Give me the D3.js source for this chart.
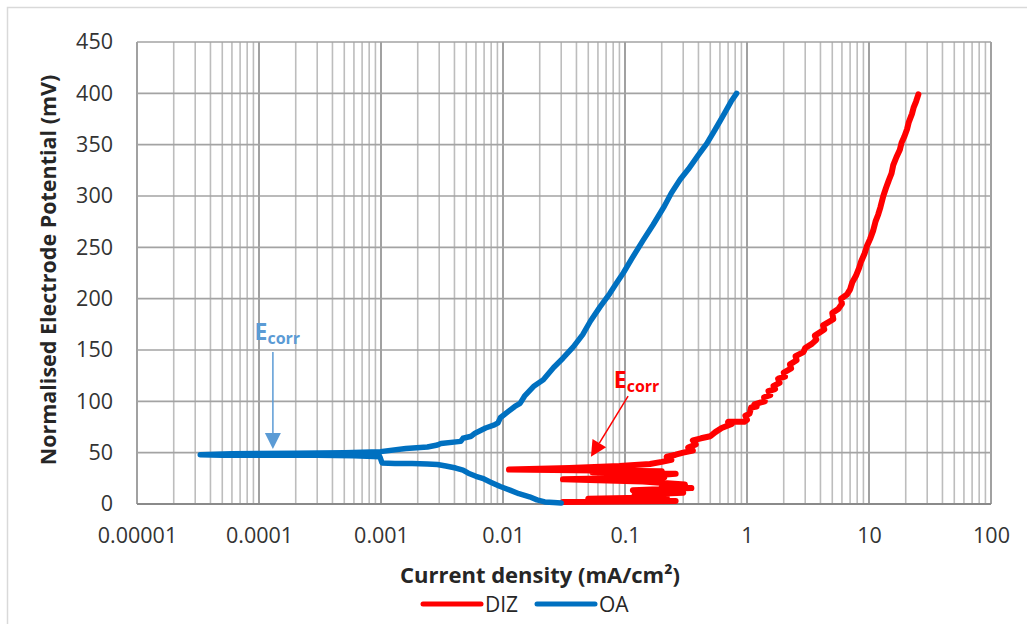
<!DOCTYPE html>
<html>
<head>
<meta charset="utf-8">
<script src="https://cdn.jsdelivr.net/npm/d3@7"></script>
<style>
  body { margin: 0; background: #fff; }
  svg { display: block; font-family: "Open Sans", "Noto Sans", sans-serif; }
</style>
</head>
<body>
<svg id="chart" width="1027" height="624"></svg>
<script>
// tick labels
const xTickValues = [1e-5, 1e-4, 1e-3, 0.01, 0.1, 1, 10, 100];
const xTickLabels = ["0.00001", "0.0001", "0.001", "0.01", "0.1", "1", "10", "100"];
const yTickValues = [0, 50, 100, 150, 200, 250, 300, 350, 400, 450];

// OA (blue) : current density (mA/cm2) and potential (mV), in scan order
const oaCurrent = [0.030, 0.026, 0.022, 0.019, 0.0165, 0.0135, 0.0114, 0.0095, 0.0080, 0.0068, 0.0060, 0.0052,
  0.0047, 0.0041, 0.0034, 0.0029, 0.0024, 0.0018, 0.0013, 0.00102, 0.00098, 0.0006, 0.0003, 0.00012, 0.00005, 0.000033,
  0.00006, 0.0002, 0.0005, 0.00099, 0.0016, 0.0024, 0.0029, 0.0031, 0.0045, 0.0047, 0.0055, 0.0059, 0.0072, 0.0085,
  0.0091, 0.0095, 0.011, 0.0125, 0.0138, 0.015, 0.018, 0.0214, 0.026, 0.031, 0.0377, 0.045, 0.052, 0.0624, 0.075,
  0.085, 0.0968, 0.115, 0.141, 0.17, 0.21, 0.24, 0.283, 0.33, 0.40, 0.468, 0.55, 0.65, 0.74, 0.822];
const oaPotential = [1, 1.5, 2, 4, 7, 10, 13.5, 17, 21, 25, 27, 30,
  33, 35, 37, 38.5, 39, 39.5, 39.5, 40, 46, 47, 47.5, 47.5, 47.5, 48,
  49, 49.5, 50, 51, 54, 55.5, 57.5, 59, 61, 64, 66, 69, 74, 77,
  79, 84, 90, 95, 98, 105, 115, 121, 133, 142, 153, 165, 178, 192, 205,
  215, 225, 240, 257, 272, 290, 303, 316, 326, 340, 351, 365, 380, 392, 400];

// DIZ (red)
const dizCurrent = [0.031, 0.26, 0.05, 0.22, 0.12, 0.30, 0.116, 0.35, 0.2, 0.31, 0.14, 0.031, 0.21, 0.18, 0.26,
  0.054, 0.2, 0.0112, 0.035, 0.09, 0.16, 0.2, 0.24, 0.22, 0.26, 0.30, 0.36, 0.33, 0.38, 0.36, 0.42, 0.50, 0.55,
  0.62, 0.75, 0.70, 0.95, 1.0, 0.97, 1.05, 1.08, 1.2, 1.15, 1.3, 1.4, 1.38, 1.55, 1.5, 1.7, 1.65, 1.85, 1.8,
  2.05, 2.0, 2.3, 2.25, 2.55, 2.5, 2.9, 3.0, 3.4, 3.7, 3.6, 4.3, 4.2, 5.1, 5.0, 5.6, 6.0, 5.9, 6.6, 7.0, 7.3,
  7.8, 8.3, 8.6, 9.2, 9.6, 10.2, 10.8, 11.3, 11.9, 12.4, 13.1, 13.8, 14.5, 15.3, 15.8, 16.8, 17.9, 18.5, 19.5,
  20.5, 21.2, 22.5, 23.2, 24.3, 25.4];
const dizPotential = [2, 3, 5, 6.5, 9, 11, 13.5, 15.5, 17, 19, 22, 24, 26, 28, 29.5,
  31, 32, 33.5, 35, 37, 39, 41, 43, 46, 48, 50, 52, 55, 58, 62, 64, 66, 70,
  74, 78, 80, 80, 82, 86, 88, 94, 95, 97, 99, 100, 104, 106, 110, 112, 115, 118, 122,
  124, 128, 132, 136, 140, 144, 148, 152, 156, 160, 164, 170, 174, 180, 186, 190, 195, 200, 204, 209, 216,
  222, 230, 236, 244, 251, 258, 266, 275, 282, 289, 300, 308, 315, 322, 330, 338, 345, 352, 358,
  365, 372, 380, 386, 392, 399];

const series = [
  { name: "DIZ", color: "#ff0000", width: 6, x: dizCurrent, y: dizPotential },
  { name: "OA", color: "#0070c0", width: 5.5, x: oaCurrent, y: oaPotential }
];

const svg = d3.select("#chart");
const x = d3.scaleLog().domain([1e-5, 100]).range([137, 991]);
const y = d3.scaleLinear().domain([0, 450]).range([504, 42]);

// outer chart border
svg.append("rect").attr("x", 7.5).attr("y", 7.5).attr("width", 1040).attr("height", 640)
  .attr("fill", "none").attr("stroke", "#d9d9d9").attr("stroke-width", 1.5);

// grid
const grid = svg.append("g");
grid.selectAll(".minor").data(x.ticks()).join("line")
  .attr("x1", d => x(d)).attr("x2", d => x(d)).attr("y1", y(0)).attr("y2", y(450))
  .attr("stroke", d => xTickValues.some(t => Math.abs(t - d) / t < 1e-6) ? "#8a8a8a" : "#bdbdbd")
  .attr("stroke-width", 1.6);
grid.selectAll(".h").data(yTickValues).join("line")
  .attr("x1", x(1e-5)).attr("x2", x(100)).attr("y1", d => y(d)).attr("y2", d => y(d))
  .attr("stroke", d => d === 0 ? "#8a8a8a" : "#a3a3a3").attr("stroke-width", d => d === 0 ? 2 : 1.6);

// axes
svg.append("g").attr("transform", `translate(${x(1e-5) - 24},0)`)
  .call(d3.axisLeft(y).tickValues(yTickValues).tickSize(0).tickPadding(0))
  .call(g => g.select(".domain").remove())
  .call(g => g.selectAll("text").attr("font-size", 21.5).attr("fill", "#333").attr("font-family", "Open Sans"));

svg.append("g").attr("transform", `translate(0,${y(0) + 24})`)
  .call(d3.axisBottom(x).tickValues(xTickValues).tickFormat((d, i) => xTickLabels[i]).tickSize(0).tickPadding(0))
  .call(g => g.select(".domain").remove())
  .call(g => g.selectAll("text").attr("font-size", 21.5).attr("fill", "#333").attr("font-family", "Open Sans"));

// axis titles
svg.append("text").attr("transform", "translate(56,270) rotate(-90)")
  .attr("text-anchor", "middle").attr("font-size", 21.5).attr("font-weight", "bold").attr("fill", "#262626")
  .text("Normalised Electrode Potential (mV)");
svg.append("text").attr("x", 540).attr("y", 583)
  .attr("text-anchor", "middle").attr("font-size", 22).attr("font-weight", "bold").attr("fill", "#262626")
  .text("Current density (mA/cm²)");

// data lines
const line = d3.line().x(d => x(d[0])).y(d => y(d[1]));
series.forEach(s => {
  svg.append("path")
    .datum(s.x.map((v, i) => [v, s.y[i]]))
    .attr("d", line)
    .attr("fill", "none").attr("stroke", s.color).attr("stroke-width", s.width)
    .attr("stroke-linejoin", "round").attr("stroke-linecap", "round");
});

// Ecorr annotations
function ecorr(color, textX, textY, fromX, fromY, tipX, tipY) {
  const g = svg.append("g");
  const x1 = x(fromX), y1 = y(fromY), x2 = x(tipX), y2 = y(tipY);
  const ang = Math.atan2(y2 - y1, x2 - x1);
  const len = 16, half = 8;
  const bx = x2 - len * Math.cos(ang), by = y2 - len * Math.sin(ang);
  g.append("line").attr("x1", x1).attr("y1", y1).attr("x2", bx).attr("y2", by)
    .attr("stroke", color).attr("stroke-width", 1.5);
  g.append("path")
    .attr("d", `M${x2},${y2}L${bx + half * Math.sin(ang)},${by - half * Math.cos(ang)}L${bx - half * Math.sin(ang)},${by + half * Math.cos(ang)}Z`)
    .attr("fill", color);
  const t = g.append("text").attr("x", x(textX)).attr("y", y(textY)).attr("fill", color)
    .attr("font-weight", "bold").attr("font-size", 23);
  t.append("tspan").text("E");
  t.append("tspan").attr("font-size", 16).attr("dy", 4).text("corr");
}
ecorr("#5b9bd5", 0.000092, 160, 0.00013, 148, 0.00013, 53.5);
ecorr("#ff0000", 0.081, 113, 0.106, 105, 0.0526, 46);

// legend
const legend = svg.append("g").attr("transform", "translate(423,604)");
series.forEach((s, i) => {
  const lg = legend.append("g").attr("transform", `translate(${i * 114},0)`);
  lg.append("line").attr("x1", 0).attr("x2", 58).attr("stroke", s.color).attr("stroke-width", 5)
    .attr("stroke-linecap", "round");
  lg.append("text").attr("x", 62).attr("y", 8).attr("font-size", 21).attr("fill", "#262626").text(s.name);
});
</script>
</body>
</html>
